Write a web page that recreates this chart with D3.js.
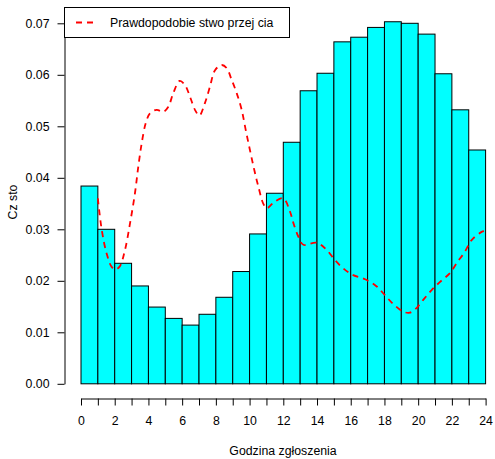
<!DOCTYPE html>
<html lang="pl">

<head>
    <meta charset="UTF-8">
    <title>Godzina zgłoszenia</title>
    <script src="https://d3js.org/d3.v7.min.js"></script>
    <style>
        body {
            margin: 0;
            background: #fff;
        }

        svg text {
            font-family: "Liberation Sans", Arial, sans-serif;
            font-size: 12.3px;
            fill: #000;
        }
    </style>
</head>

<body>
    <svg width="495" height="459"></svg>

    <script>
        // histogram: one bar per hour, 0-1 ... 23-24
        const binStarts = d3.range(0, 24);
        const binDensity = [
            0.0384, 0.0300, 0.0234, 0.0190, 0.0149, 0.0127, 0.0114, 0.0135,
            0.0168, 0.0218, 0.0291, 0.0370, 0.0469, 0.0569, 0.0603, 0.0664,
            0.0673, 0.0692, 0.0703, 0.0700, 0.0679, 0.0602, 0.0532, 0.0454
        ];

        // red dashed curve
        const curveHours = [
            1.0, 1.23, 1.52, 1.82, 2.05, 2.3, 2.61, 2.91, 3.2, 3.4, 3.6, 3.84,
            4.09, 4.49, 4.88, 5.18, 5.47, 5.85, 6.17, 6.47, 6.76, 7.02, 7.35, 7.65,
            7.95, 8.35, 8.64, 8.94, 9.24, 9.53, 9.77, 10.02, 10.28, 10.52, 10.81, 11.02,
            11.5, 12.0, 12.4, 12.6, 12.89, 13.19, 13.98, 14.57, 15.07, 15.56, 16.15, 16.85,
            17.54, 18.03, 18.52, 19.12, 19.5, 19.9, 20.3, 20.8, 21.3, 21.89, 22.28, 22.78,
            23.17, 23.77, 24.0
        ];
        const curveValues = [
            0.0360, 0.0299, 0.0253, 0.0227, 0.0222, 0.0228, 0.0260, 0.0312, 0.0370, 0.0422, 0.0467, 0.0506,
            0.0525, 0.0532, 0.0528, 0.0538, 0.0564, 0.0588, 0.0580, 0.0557, 0.0532, 0.0521, 0.0545, 0.0577,
            0.0609, 0.0619, 0.0613, 0.0590, 0.0564, 0.0532, 0.0493, 0.0454, 0.0415, 0.0383, 0.0350, 0.0341,
            0.0354, 0.0360, 0.0334, 0.0312, 0.0286, 0.0270, 0.0274, 0.0260, 0.0240, 0.0224, 0.0211, 0.0203,
            0.0189, 0.0172, 0.0155, 0.0140, 0.0138, 0.0147, 0.0163, 0.0182, 0.0198, 0.0215, 0.0234, 0.0257,
            0.0279, 0.0295, 0.0297
        ];

        const xTicks = d3.range(0, 25);
        const yTicks = [0, 0.01, 0.02, 0.03, 0.04, 0.05, 0.06, 0.07];
        const legendLabel = "Prawdopodobie stwo przej cia";

        const svg = d3.select("svg");

        const x = d3.scaleLinear().domain([0, 24]).range([81, 485.6]);
        const y = d3.scaleLinear().domain([0, 0.07]).range([383.8, 23.3]);

        // bars
        svg.append("g")
            .selectAll("rect")
            .data(binStarts)
            .join("rect")
            .attr("x", d => x(d))
            .attr("y", (d, i) => y(binDensity[i]))
            .attr("width", d => x(d + 1) - x(d))
            .attr("height", (d, i) => y(0) - y(binDensity[i]))
            .attr("fill", "#00ffff")
            .attr("stroke", "#000")
            .attr("stroke-width", 1);

        // dashed curve
        const line = d3.line()
            .x(d => x(d[0]))
            .y(d => y(d[1]))
            .curve(d3.curveCatmullRom);

        svg.append("path")
            .datum(curveHours.map((h, i) => [h, curveValues[i]]))
            .attr("d", line)
            .attr("fill", "none")
            .attr("stroke", "#ff0000")
            .attr("stroke-width", 1.8)
            .attr("stroke-dasharray", "6,5");

        // axes
        const yAxis = svg.append("g")
            .attr("transform", "translate(64.5,0)")
            .call(d3.axisLeft(y)
                .tickValues(yTicks)
                .tickFormat(d3.format(".2f"))
                .tickSizeInner(7)
                .tickSizeOuter(0)
                .tickPadding(8));

        const xAxis = svg.append("g")
            .attr("transform", "translate(0,398.5)")
            .call(d3.axisBottom(x)
                .tickValues(xTicks)
                .tickFormat(d => d % 2 ? "" : d)
                .tickSizeInner(7)
                .tickSizeOuter(0)
                .tickPadding(11));

        [xAxis, yAxis].forEach(a => {
            a.attr("font-family", null).attr("font-size", null);
            a.selectAll("path, line").attr("stroke", "#000");
        });

        // axis titles
        svg.append("text")
            .attr("x", 283)
            .attr("y", 455)
            .attr("text-anchor", "middle")
            .text("Godzina zgłoszenia");

        svg.append("text")
            .attr("transform", "translate(16.5,202) rotate(-90)")
            .attr("text-anchor", "middle")
            .text("Cz sto");

        // legend
        const legend = svg.append("g");
        legend.append("rect")
            .attr("x", 64.5)
            .attr("y", 7.5)
            .attr("width", 225)
            .attr("height", 30)
            .attr("fill", "#fff")
            .attr("stroke", "#000");
        legend.append("line")
            .attr("x1", 76).attr("x2", 94)
            .attr("y1", 22.5).attr("y2", 22.5)
            .attr("stroke", "#ff0000")
            .attr("stroke-width", 1.8)
            .attr("stroke-dasharray", "6,5");
        legend.append("text")
            .attr("x", 110)
            .attr("y", 26.5)
            .text(legendLabel);
    </script>
</body>

</html>
